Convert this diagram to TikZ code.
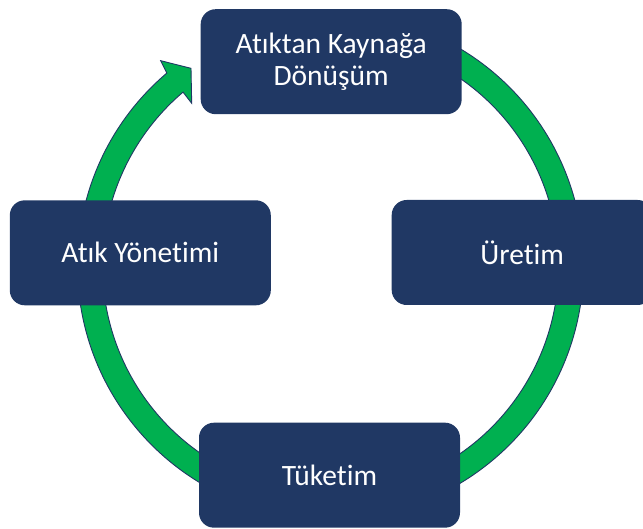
\documentclass[tikz,border=0pt]{standalone}
\usepackage{fontspec}
\setmainfont{Carlito}[Ligatures=NoCommon,Contextuals=NoAlternate]
\usepackage{tikz}
\definecolor{navy}{HTML}{203864}
\definecolor{ringgreen}{HTML}{00B050}

\begin{document}
\begin{tikzpicture}[x=1pt,y=1pt,
	box/.style={rectangle,rounded corners=15pt,fill=navy,text=white,
		minimum width=261pt,minimum height=105pt,align=center,
		font=\fontsize{29.5}{32}\selectfont},
	ring/.style={fill=ringgreen,draw=navy,line width=0.9pt}]
	\clip (0,0) rectangle (643,528);
	
	% circular arrow behind the boxes
	\draw[ring] (330.5,262) ++(130.3:253) arc[start angle=130.3,end angle=420,radius=253]
		-- ([shift={(330.5,262)}]420:228) arc[start angle=420,end angle=130.3,radius=228]
		-- (191.7,424.7) -- (191,459.7) -- (160.7,467.3) -- cycle;
	
	\node[box] (donusum) at (331.2,466.3) {At\i ktan Kaynağa\\Dönüşüm};
	\node[box] (uretim) at (522.2,275.5) {Üretim};
	\node[box] (tuketim) at (329.5,52.8) {Tüketim};
	\node[box] (yonetim) at (140.3,275.2) {At\i k Yönetimi};
\end{tikzpicture}
\end{document}
